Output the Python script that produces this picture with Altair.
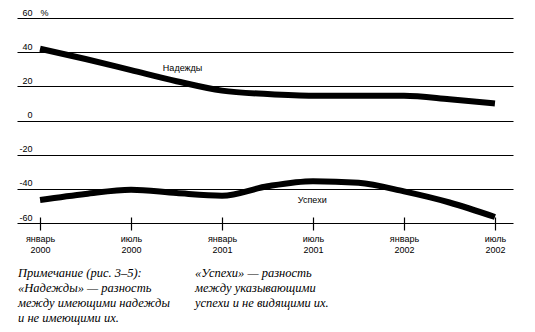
import altair as alt
import pandas as pd

# ---- data ----
months = [0, 3, 6, 9, 12, 15, 18, 21, 24, 27, 30]
hopes = [42, 36, 29.5, 23, 17.5, 15.5, 14.5, 14.5, 14.5, 12.5, 10]
success = [-46.5, -43, -40.5, -42.5, -44, -38.5, -35.5, -36.5, -41.5, -48, -56.5]

tick_months = [0, 6, 12, 18, 24, 30]
tick_names = ["январь", "июль", "январь", "июль", "январь", "июль"]
tick_years = ["2000", "2000", "2001", "2001", "2002", "2002"]

y_ticks = [-60, -40, -20, 0, 20, 40, 60]

series_names = ["Надежды", "Успехи"]
label_month = [8.1, 17.0]
label_value = [31, -46.3]

note_left = ["Примечание (рис. 3–5):", "«Надежды» — разность",
             "между имеющими надежды", "и не имеющими их."]
note_right = ["«Успехи» — разность", "между указывающими",
              "успехи и не видящими их."]

rows = []
for m, v in zip(months, hopes):
    rows.append({"m": m, "v": v, "s": "Надежды"})
for m, v in zip(months, success):
    rows.append({"m": m, "v": v, "s": "Успехи"})
df = pd.DataFrame(rows)
labels_df = pd.DataFrame({"s": series_names, "m": label_month, "v": label_value})

FONT = "Liberation Sans"
SERIF = "Liberation Serif"

label_expr = " : ".join(
    f"datum.value == {m} ? ['{n}', '{y}']" for m, n, y in zip(tick_months, tick_names, tick_years)
) + " : ''"

xscale = alt.Scale(domain=[-1.52, 31.19], nice=False, zero=False)
yscale = alt.Scale(domain=[-60, 60], nice=False, zero=False)

x_axis = alt.Axis(values=tick_months, tickCount=20, labelExpr=label_expr, orient="bottom",
                  offset=-6, tickSize=13, tickWidth=1.2, tickColor="black", domain=False,
                  grid=False, labelPadding=4, labelFont=FONT, labelFontSize=9,
                  labelColor="black", labelLineHeight=11, labelOverlap=False, title=None)
y_axis = alt.Axis(values=y_ticks, tickCount=20, orient="left", grid=True, gridColor="black",
                  gridWidth=1.2, gridOpacity=1, domain=False, ticks=False, labelPadding=-15,
                  labelAlign="right", labelBaseline="alphabetic", labelOffset=-3,
                  labelOverlap=False, labelExpr="'' + datum.value",
                  labelFont=FONT, labelFontSize=9, labelColor="black",
                  title="%", titleAngle=0, titleX=23, titleY=-3, titleAlign="left",
                  titleBaseline="alphabetic", titleFont=FONT, titleFontSize=9,
                  titleFontWeight="normal", titleColor="black")

lines = alt.Chart(df).mark_line(color="black", strokeWidth=6, interpolate="monotone",
                                strokeCap="butt").encode(
    x=alt.X("m:Q", scale=xscale, axis=x_axis),
    y=alt.Y("v:Q", scale=yscale, axis=y_axis),
    detail="s:N",
)

texts = alt.Chart(labels_df).mark_text(align="left", baseline="middle", font=FONT,
                                        fontSize=9, color="black").encode(
    x=alt.X("m:Q", scale=xscale),
    y=alt.Y("v:Q", scale=yscale),
    text="s:N",
)

note1 = alt.Chart(pd.DataFrame({"a": [0]})).mark_text(
    text=note_left, align="left", baseline="middle", font=SERIF, fontStyle="italic",
    fontSize=12.5, lineHeight=15, color="black").encode(x=alt.value(1), y=alt.value(255))
note2 = alt.Chart(pd.DataFrame({"a": [0]})).mark_text(
    text=note_right, align="left", baseline="middle", font=SERIF, fontStyle="italic",
    fontSize=12.5, lineHeight=15, color="black").encode(x=alt.value(178), y=alt.value(255))

chart = alt.layer(lines, texts, note1, note2).properties(
    width=496, height=205,
    autosize=alt.AutoSizeParams(type="none"),
    padding={"left": 17, "top": 18, "right": 22, "bottom": 109},
    background="white",
).configure_view(stroke=None)

chart.save("out.html", embed_options={"renderer": "svg", "actions": False})
